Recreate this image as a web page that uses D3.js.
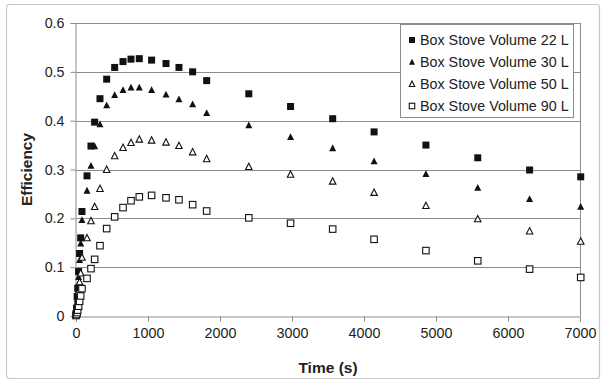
<!DOCTYPE html>
<html><head><meta charset="utf-8">
<script src="https://cdn.jsdelivr.net/npm/d3@7"></script>
<style>body{margin:0;background:#fff;}svg{display:block;}</style>
</head><body>
<svg id="chart" width="606" height="382"></svg>
<script>
const times = [0, 8, 16, 24, 36, 50, 65, 83, 153, 208, 259, 333, 426, 537, 653, 764, 879, 1050, 1250, 1430, 1620, 1815, 2400, 2980, 3565, 4140, 4860, 5580, 6300, 7010];
const vol22 = [0.005, 0.016, 0.040, 0.057, 0.091, 0.128, 0.160, 0.214, 0.287, 0.348, 0.397, 0.445, 0.485, 0.509, 0.521, 0.526, 0.527, 0.524, 0.517, 0.509, 0.500, 0.482, 0.455, 0.429, 0.404, 0.377, 0.350, 0.324, 0.299, 0.285];
const vol30 = [0.004, 0.015, 0.035, 0.050, 0.080, 0.115, 0.149, 0.197, 0.257, 0.308, 0.348, 0.393, 0.432, 0.453, 0.463, 0.468, 0.468, 0.463, 0.454, 0.444, 0.434, 0.416, 0.391, 0.367, 0.344, 0.317, 0.291, 0.263, 0.240, 0.224];
const vol50 = [0.003, 0.010, 0.020, 0.030, 0.050, 0.070, 0.088, 0.120, 0.160, 0.195, 0.224, 0.261, 0.300, 0.328, 0.345, 0.355, 0.362, 0.360, 0.356, 0.349, 0.336, 0.322, 0.306, 0.290, 0.276, 0.253, 0.226, 0.199, 0.174, 0.153];
const vol90 = [0.001, 0.003, 0.007, 0.012, 0.020, 0.030, 0.041, 0.056, 0.077, 0.097, 0.116, 0.144, 0.179, 0.203, 0.222, 0.236, 0.244, 0.247, 0.242, 0.238, 0.228, 0.215, 0.201, 0.190, 0.178, 0.157, 0.134, 0.113, 0.096, 0.079];
const seriesNames = ["Box Stove Volume 22 L", "Box Stove Volume 30 L", "Box Stove Volume 50 L", "Box Stove Volume 90 L"];
const xTicks = [0, 1000, 2000, 3000, 4000, 5000, 6000, 7000];
const yTicks = [0, 0.1, 0.2, 0.3, 0.4, 0.5, 0.6];

const series = [
  {name: seriesNames[0], values: vol22, shape: "square", filled: true},
  {name: seriesNames[1], values: vol30, shape: "triangle", filled: true},
  {name: seriesNames[2], values: vol50, shape: "triangle", filled: false},
  {name: seriesNames[3], values: vol90, shape: "square", filled: false}
];

const svg = d3.select("#chart");
const font = "'Liberation Sans', Arial, sans-serif";
const L = 76, R = 580, T = 23, B = 316;
const x = d3.scaleLinear().domain([0, 7000]).range([L, R]);
const y = d3.scaleLinear().domain([0, 0.6]).range([B, T]);

// outer border
svg.append("rect").attr("x", 6.5).attr("y", 4.5).attr("width", 593).attr("height", 374)
  .attr("rx", 3).attr("fill", "#fff").attr("stroke", "#c8c8c8").attr("stroke-width", 1.2);

// gridlines
svg.append("g").selectAll("line").data(yTicks.filter(d => d > 0)).join("line")
  .attr("x1", L).attr("x2", R)
  .attr("y1", d => Math.round(y(d)) + 0.5).attr("y2", d => Math.round(y(d)) + 0.5)
  .attr("stroke", "#8c8c8c").attr("stroke-width", 1);

// plot border right
svg.append("line").attr("x1", R + 0.5).attr("x2", R + 0.5).attr("y1", T).attr("y2", B)
  .attr("stroke", "#8c8c8c");

// axes
const xAxis = d3.axisBottom(x).tickValues(xTicks).tickSize(5).tickPadding(6).tickFormat(d3.format("d"));
const yAxis = d3.axisLeft(y).tickValues(yTicks).tickSize(5).tickPadding(6).tickFormat(d => d === 0 ? "0" : d3.format(".1f")(d));
const gx = svg.append("g").attr("transform", `translate(0,${B + 0.5})`).call(xAxis);
const gy = svg.append("g").attr("transform", `translate(${L - 0.5},0)`).call(yAxis);
[gx, gy].forEach(g => {
  g.select(".domain").attr("stroke", "#8c8c8c");
  g.selectAll(".tick line").attr("stroke", "#8c8c8c");
  g.selectAll(".tick text").attr("font-family", font).attr("font-size", "14.3px").attr("fill", "#222");
});

// axis titles
svg.append("text").attr("x", (L + R) / 2).attr("y", 373).attr("text-anchor", "middle")
  .attr("font-family", font).attr("font-size", "15.5px").attr("font-weight", "bold").attr("fill", "#222")
  .text("Time (s)");
svg.append("text").attr("transform", `translate(32,${(T + B) / 2}) rotate(-90)`).attr("text-anchor", "middle")
  .attr("font-family", font).attr("font-size", "15.5px").attr("font-weight", "bold").attr("fill", "#222")
  .text("Efficiency");

function marker(sel, shape, filled, s) {
  if (shape === "square") {
    sel.append("rect").attr("x", -s / 2).attr("y", -s / 2).attr("width", s).attr("height", s)
      .attr("fill", filled ? "#111" : "#fff").attr("stroke", "#111").attr("stroke-width", filled ? 0 : 1.1);
  } else {
    const h = s * 0.9;
    sel.append("path").attr("d", `M0,${-h / 2 - 0.5}L${s / 2},${h / 2}L${-s / 2},${h / 2}Z`)
      .attr("fill", filled ? "#111" : "#fff").attr("stroke", "#111").attr("stroke-width", filled ? 0 : 1.1);
  }
}

// points
series.forEach(sr => {
  const g = svg.append("g");
  times.forEach((t, i) => {
    const p = g.append("g").attr("transform", `translate(${x(t)},${y(sr.values[i])})`);
    marker(p, sr.shape, sr.filled, sr.filled ? 7 : 6.5);
  });
});

// legend
const lg = svg.append("g");
lg.append("rect").attr("x", 400.5).attr("y", 24.5).attr("width", 173).attr("height", 93)
  .attr("fill", "#fff").attr("stroke", "#8c8c8c");
series.forEach((sr, i) => {
  const cy = 40 + i * 22;
  const m = lg.append("g").attr("transform", `translate(412,${cy})`);
  marker(m, sr.shape, sr.filled, sr.filled ? 6 : 5.5);
  lg.append("text").attr("x", 420).attr("y", cy).attr("dy", "0.36em")
    .attr("font-family", font).attr("font-size", "14.3px").attr("fill", "#222").text(sr.name);
});
</script>
</body></html>
